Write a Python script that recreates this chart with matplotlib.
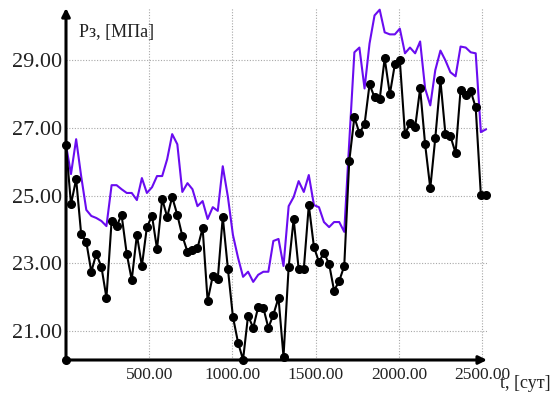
import matplotlib
matplotlib.use("Agg")
import matplotlib.pyplot as plt

t_days = [0, 30, 61, 91, 122, 152, 182, 213, 243, 274, 304, 334, 365, 395, 426, 456,
          486, 517, 547, 578, 608, 638, 669, 699, 730, 760, 790, 821, 851, 882, 912, 942,
          973, 1003, 1034, 1064, 1094, 1125, 1155, 1186, 1216, 1246, 1277, 1307, 1338, 1368,
          1398, 1429, 1459, 1490, 1520, 1550, 1581, 1611, 1642, 1672, 1702, 1733, 1763, 1794,
          1824, 1854, 1885, 1915, 1946, 1976, 2006, 2037, 2067, 2098, 2128, 2158, 2189, 2219,
          2250, 2280, 2310, 2341, 2371, 2402, 2432, 2462, 2493, 2523]

p_measured = [26.49, 24.75, 25.49, 23.87, 23.63, 22.75, 23.28, 22.89, 21.98, 24.25, 24.10,
              24.43, 23.28, 22.51, 23.84, 22.92, 24.07, 24.40, 23.42, 24.90, 24.37, 24.96,
              24.43, 23.81, 23.34, 23.40, 23.45, 24.04, 21.89, 22.63, 22.54, 24.37, 22.83,
              21.42, 20.65, 20.15, 21.45, 21.09, 21.71, 21.68, 21.09, 21.48, 21.98, 20.24,
              22.89, 24.31, 22.83, 22.83, 24.72, 23.48, 23.04, 23.31, 22.98, 22.19, 22.48,
              22.92, 26.02, 27.32, 26.85, 27.11, 28.29, 27.91, 27.85, 29.06, 28.00, 28.88,
              29.00, 26.82, 27.14, 27.02, 28.17, 26.52, 25.22, 26.70, 28.41, 26.82, 26.76,
              26.26, 28.12, 27.97, 28.09, 27.61, 25.02, 25.02]

p_model = [26.50, 25.64, 26.67, 25.58, 24.58, 24.40, 24.34, 24.25, 24.10, 25.31, 25.31,
           25.19, 25.08, 25.08, 24.87, 25.52, 25.08, 25.25, 25.58, 25.58, 26.08, 26.82,
           26.52, 25.11, 25.37, 25.19, 24.69, 24.84, 24.31, 24.66, 24.55, 25.87, 24.96,
           23.84, 23.16, 22.60, 22.75, 22.45, 22.66, 22.75, 22.75, 23.66, 23.72, 22.92,
           24.69, 24.96, 25.43, 25.11, 25.61, 24.72, 24.66, 24.22, 24.07, 24.22, 24.22,
           23.93, 26.58, 29.24, 29.38, 28.17, 29.50, 30.33, 30.50, 29.83, 29.77, 29.77,
           29.94, 29.21, 29.38, 29.21, 29.56, 28.17, 27.67, 28.71, 29.29, 29.00, 28.65,
           28.53, 29.41, 29.38, 29.24, 29.21, 26.88, 26.96]

x_ticks = [500, 1000, 1500, 2000, 2500]
x_tick_labels = ["500.00", "1000.00", "1500.00", "2000.00", "2500.00"]
y_ticks = [21, 23, 25, 27, 29]
y_tick_labels = ["21.00", "23.00", "25.00", "27.00", "29.00"]

serif = ["Liberation Serif", "DejaVu Serif"]

fig = plt.figure(figsize=(5.5, 3.94), dpi=100)
ax = fig.add_axes([0.12, 0.0863, 0.7655, 0.8934])
ax.set_xlim(0, 2530)
ax.set_ylim(20.14, 30.55)

ax.plot(t_days, p_model, color="#6a0cf0", lw=1.5, zorder=3, clip_on=False)
ax.plot(t_days, p_measured, color="black", lw=1.5, marker="o", ms=5.5,
        zorder=4, clip_on=False)

for s in ax.spines.values():
    s.set_visible(False)

ax.set_xticks(x_ticks)
ax.set_xticklabels(x_tick_labels, fontfamily=serif, fontsize=12.5)
ax.set_yticks(y_ticks)
ax.set_yticklabels(y_tick_labels, fontfamily=serif, fontsize=16)
ax.tick_params(axis="both", length=0, colors="#222222")
ax.tick_params(axis="x", pad=5)
ax.tick_params(axis="y", pad=3)
ax.grid(True, color="#a8a8a8", lw=0.8, ls=(0, (1, 1.5)))

# axes with arrows
ax.annotate("", xy=(0, 1.0), xytext=(0, 0), xycoords="axes fraction",
            arrowprops=dict(arrowstyle="-|>", lw=2.2, color="black",
                            mutation_scale=12, shrinkA=0, shrinkB=0), zorder=5)
ax.annotate("", xy=(1.0, 0), xytext=(0, 0), xycoords="axes fraction",
            arrowprops=dict(arrowstyle="-|>", lw=2.2, color="black",
                            mutation_scale=12, shrinkA=0, shrinkB=0), zorder=5)
ax.plot([0], [20.14], "o", color="black", ms=5.5, clip_on=False, zorder=6)

fig.text(79 / 550, 1 - 33 / 394, "Рз, [МПа]", fontfamily=serif, fontsize=13,
         ha="left", va="center", color="#222222")
fig.text(500 / 550, 1 - 384 / 394, "t, [сут]", fontfamily=serif, fontsize=13,
         ha="left", va="center", color="#222222")

fig.savefig("out.png", dpi=100)
